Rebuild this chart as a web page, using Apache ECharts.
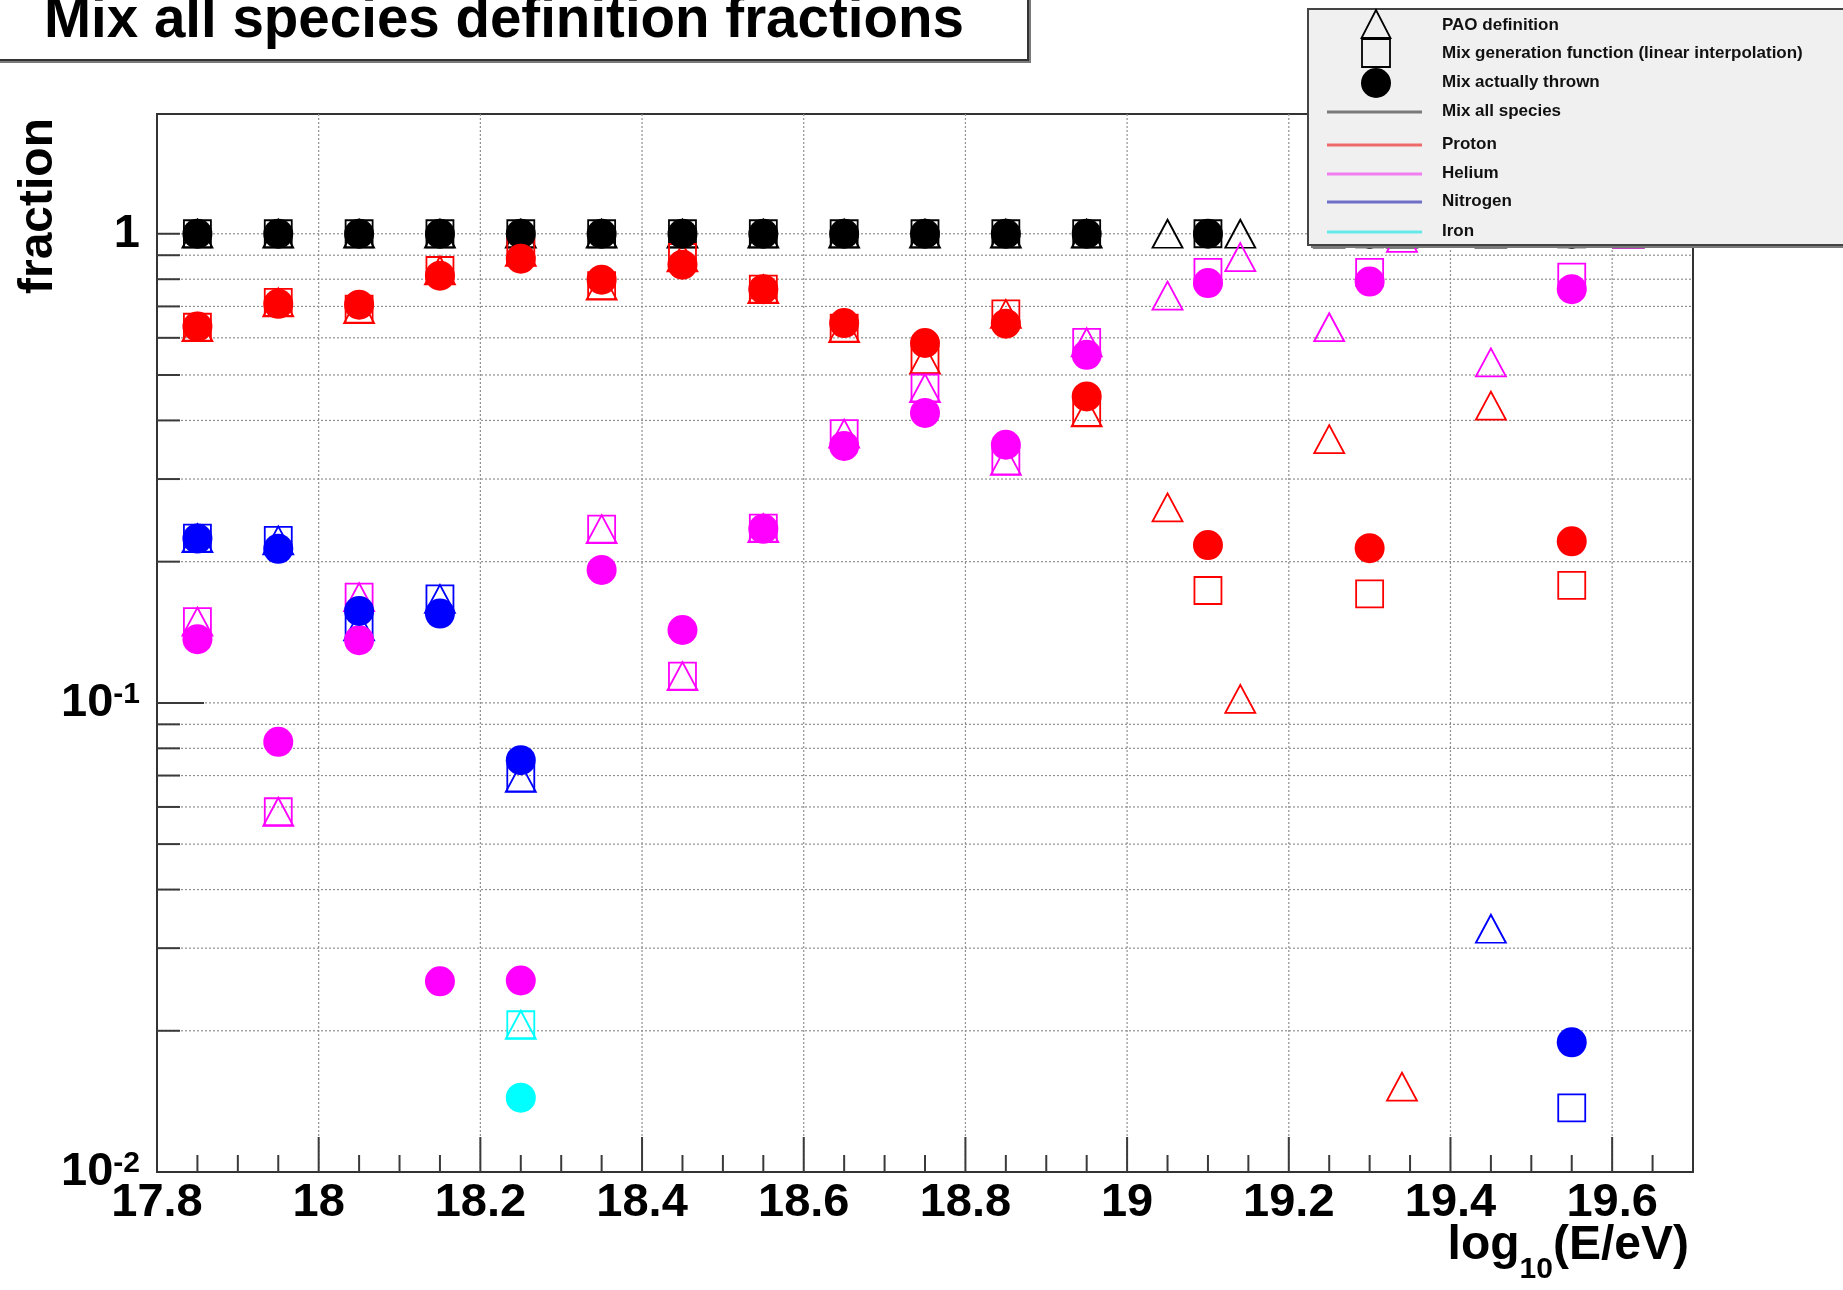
<!DOCTYPE html>
<html>
<head>
<meta charset="utf-8">
<title>Mix all species definition fractions</title>
<script src="https://cdn.jsdelivr.net/npm/echarts@6/dist/echarts.min.js"></script>
<style>
  html, body { margin: 0; padding: 0; background: #ffffff; }
  #chart { width: 1843px; height: 1290px; }
</style>
</head>
<body>
<div id="chart"></div>
<script>
// ---- axis ranges ----
const X_MIN = 17.8, X_MAX = 19.7, X_STEP = 0.2;
const Y_MIN = 0.01, Y_MAX = 1.8;

// ---- energy bins, log10(E/eV) ----
const binsMix = [17.85, 17.95, 18.05, 18.15, 18.25, 18.35, 18.45, 18.55, 18.65, 18.75, 18.85, 18.95, 19.1, 19.3, 19.55];
const binsPao = [17.85, 17.95, 18.05, 18.15, 18.25, 18.35, 18.45, 18.55, 18.65, 18.75, 18.85, 18.95, 19.05, 19.14, 19.25, 19.34, 19.45, 19.62];

// ---- PAO definition (per binsPao) ----
const paoAll      = [1, 1, 1, 1, 1, 1, 1, 1, 1, 1, 1, 1, 1, 1, 1, 1, 1, 1];
const paoProton   = [0.632, 0.714, 0.691, 0.835, 0.915, 0.775, 0.89, 0.762, 0.629, 0.539, 0.675, 0.416, 0.261, 0.102, 0.365, 0.0152, 0.43, null];
const paoHelium   = [0.149, 0.0586, 0.168, null, null, 0.2346, 0.114, 0.2357, 0.375, 0.469, 0.328, 0.587, 0.738, 0.892, 0.632, 0.98, 0.532, 1.0];
const paoNitrogen = [0.2245, 0.222, 0.1455, 0.1666, 0.0692, null, null, null, null, null, null, null, null, null, null, null, 0.033, null];
const paoIron     = [null, null, null, null, 0.0206, null, null, null, null, null, null, null, null, null, null, null, null, null];

// ---- Mix generation function, linear interpolation (per binsMix) ----
const genAll      = [1, 1, 1, 1, 1, 1, 1, 1, 1, 1, 1, 1, 1, 1, 1];
const genProton   = [0.632, 0.714, 0.691, 0.835, 0.915, 0.775, 0.89, 0.762, 0.629, 0.539, 0.675, 0.416, 0.1736, 0.1708, 0.178];
const genHelium   = [0.149, 0.0586, 0.168, null, null, 0.2346, 0.114, 0.2357, 0.375, 0.469, 0.328, 0.587, 0.827, 0.827, 0.808];
const genNitrogen = [0.2245, 0.222, 0.1455, 0.1666, 0.0692, null, null, null, null, null, null, null, null, null, 0.0137];
const genIron     = [null, null, null, null, 0.0206, null, null, null, null, null, null, null, null, null, null];

// ---- Mix actually thrown (per binsMix) ----
const thrownAll      = [1, 1, 1, 1, 1, 1, 1, 1, 1, 1, 1, 1, 1, 1, 1];
const thrownProton   = [0.634, 0.709, 0.706, 0.814, 0.885, 0.798, 0.859, 0.762, 0.645, 0.585, 0.643, 0.45, 0.217, 0.2137, 0.221];
const thrownHelium   = [0.1367, 0.0826, 0.136, 0.0255, 0.0256, 0.192, 0.143, 0.235, 0.353, 0.415, 0.355, 0.552, 0.785, 0.791, 0.762];
const thrownNitrogen = [0.224, 0.213, 0.157, 0.155, 0.0755, null, null, null, null, null, null, null, null, null, 0.0189];
const thrownIron     = [null, null, null, null, 0.0144, null, null, null, null, null, null, null, null, null, null];

// ---- grid lines and ticks ----
const yGridValues = [0.02, 0.03, 0.04, 0.05, 0.06, 0.07, 0.08, 0.09, 0.1, 0.2, 0.3, 0.4, 0.5, 0.6, 0.7, 0.8, 0.9, 1];
const yLongTicks = [0.1];
const xGridValues = [18, 18.2, 18.4, 18.6, 18.8, 19, 19.2, 19.4, 19.6];
const xMinorTicks = [];
for (let k = 1; k < 38; k++) {
  const v = +(X_MIN + 0.05 * k).toFixed(2);
  if (Math.abs(v * 5 - Math.round(v * 5)) > 1e-6) xMinorTicks.push(v);
}

// ---- texts ----
const titleText = 'Mix all species definition fractions';
const yTitle = 'fraction';
const legendLabels = ['PAO definition', 'Mix generation function (linear interpolation)', 'Mix actually thrown',
                      'Mix all species', 'Proton', 'Helium', 'Nitrogen', 'Iron'];

const FONT = '"Liberation Sans", Arial, Helvetica, sans-serif';

const species = [
  { name: 'Mix all species', color: '#000000', legendLine: '#7a7a7a', pao: paoAll,      gen: genAll,      thrown: thrownAll },
  { name: 'Proton',          color: '#ff0000', legendLine: '#ee6a6a', pao: paoProton,   gen: genProton,   thrown: thrownProton },
  { name: 'Helium',          color: '#ff00ff', legendLine: '#f07ef0', pao: paoHelium,   gen: genHelium,   thrown: thrownHelium },
  { name: 'Nitrogen',        color: '#0000ff', legendLine: '#6f6fc8', pao: paoNitrogen, gen: genNitrogen, thrown: thrownNitrogen },
  { name: 'Iron',            color: '#00ffff', legendLine: '#66e8e8', pao: paoIron,     gen: genIron,     thrown: thrownIron }
];

const markerKinds = [
  { key: 'pao',    bins: binsPao, symbol: 'triangle', size: [30, 28], filled: false },
  { key: 'gen',    bins: binsMix, symbol: 'rect',     size: [27, 27], filled: false },
  { key: 'thrown', bins: binsMix, symbol: 'circle',   size: 30,       filled: true }
];

const series = [];

// horizontal dotted grid lines with left-side ticks
series.push({
  type: 'custom',
  silent: true,
  z: 1,
  data: yGridValues.map(v => [X_MIN, v]),
  renderItem: (params, api) => {
    const v = api.value(1);
    const a = api.coord([X_MIN, v]);
    const b = api.coord([X_MAX, v]);
    const len = yLongTicks.indexOf(v) >= 0 ? 47 : 23;
    return {
      type: 'group',
      children: [
        { type: 'line', shape: { x1: a[0], y1: a[1], x2: b[0], y2: b[1] },
          style: { stroke: '#8f8f8f', lineWidth: 1.2, lineDash: [2, 2] } },
        { type: 'line', shape: { x1: a[0], y1: a[1], x2: a[0] + len, y2: a[1] },
          style: { stroke: '#3a3a3a', lineWidth: 2 } }
      ]
    };
  }
});

// vertical dotted grid lines with major ticks
series.push({
  type: 'custom',
  silent: true,
  z: 1,
  data: xGridValues.map(x => [x, Y_MIN]),
  renderItem: (params, api) => {
    const x = api.value(0);
    const a = api.coord([x, Y_MIN]);
    const b = api.coord([x, Y_MAX]);
    return {
      type: 'group',
      children: [
        { type: 'line', shape: { x1: a[0], y1: a[1], x2: b[0], y2: b[1] },
          style: { stroke: '#8f8f8f', lineWidth: 1.2, lineDash: [2, 2] } },
        { type: 'line', shape: { x1: a[0], y1: a[1], x2: a[0], y2: a[1] - 35 },
          style: { stroke: '#3a3a3a', lineWidth: 2 } }
      ]
    };
  }
});

// minor ticks on the energy axis
series.push({
  type: 'custom',
  silent: true,
  z: 1,
  data: xMinorTicks.map(x => [x, Y_MIN]),
  renderItem: (params, api) => {
    const a = api.coord([api.value(0), Y_MIN]);
    return { type: 'line', shape: { x1: a[0], y1: a[1], x2: a[0], y2: a[1] - 17 },
             style: { stroke: '#3a3a3a', lineWidth: 2 } };
  }
});

// markers: triangles, then squares, then circles
markerKinds.forEach((mk, mi) => {
  species.forEach(sp => {
    const vals = sp[mk.key];
    const data = [];
    mk.bins.forEach((x, i) => { if (vals[i] != null) data.push([x, vals[i]]); });
    series.push({
      type: 'scatter',
      name: sp.name + ' / ' + mk.key,
      data: data,
      symbol: mk.symbol,
      symbolSize: mk.size,
      z: 3 + mi,
      silent: true,
      itemStyle: mk.filled
        ? { color: sp.color, borderWidth: 0, opacity: 1 }
        : { color: 'rgba(0,0,0,0)', borderColor: sp.color, borderWidth: 1.8, opacity: 1 },
      emphasis: { disabled: true }
    });
  });
});

// text width helper for the composed axis title
const measureCtx = document.createElement('canvas').getContext('2d');
function textWidth(str, font) { measureCtx.font = font; return measureCtx.measureText(str).width; }

const xtFont = 'bold 48px ' + FONT;
const xtSubFont = 'bold 30px ' + FONT;
const xtRight = 1689;
const wParen = textWidth('(E/eV)', xtFont);
const wSub = textWidth('10', xtSubFont);

// legend layout
const LG = { left: 1308, top: 9, bottom: 245, symX: 1376, lineX1: 1327, lineX2: 1422, textX: 1442 };
const legendRowsY = [25, 53, 82, 111, 144, 173, 201, 231];
const ZL = 200;

const legendElements = [
  { type: 'rect', z: ZL, shape: { x: LG.left + 3, y: LG.top + 3, width: 600, height: LG.bottom - LG.top },
    style: { fill: '#7a7a7a' } },
  { type: 'rect', z: ZL + 1, shape: { x: LG.left, y: LG.top, width: 600, height: LG.bottom - LG.top },
    style: { fill: '#f0f0f0', stroke: '#444444', lineWidth: 2 } },
  // triangle / square / circle marker symbols
  { type: 'polygon', z: ZL + 2, shape: { points: [[LG.symX, 10], [LG.symX + 14.5, 38], [LG.symX - 14.5, 38]] },
    style: { fill: 'none', stroke: '#000', lineWidth: 1.8 } },
  { type: 'rect', z: ZL + 2, shape: { x: LG.symX - 14, y: 39, width: 28, height: 28 },
    style: { fill: 'none', stroke: '#000', lineWidth: 1.8 } },
  { type: 'circle', z: ZL + 2, shape: { cx: LG.symX, cy: 83, r: 15 }, style: { fill: '#000' } }
];
species.forEach((sp, i) => {
  const y = legendRowsY[3 + i];
  legendElements.push({ type: 'line', z: ZL + 2, shape: { x1: LG.lineX1, y1: y + 1, x2: LG.lineX2, y2: y + 1 },
    style: { stroke: sp.legendLine, lineWidth: 3 } });
});
legendLabels.forEach((t, i) => {
  legendElements.push({ type: 'text', z: ZL + 2, x: LG.textX, y: legendRowsY[i],
    style: { text: t, font: 'bold 17px ' + FONT, fill: '#111', align: 'left', verticalAlign: 'middle' } });
});

const chart = echarts.init(document.getElementById('chart'), null, { renderer: 'canvas', width: 1843, height: 1290 });

chart.setOption({
  animation: false,
  backgroundColor: '#ffffff',
  grid: {
    left: 157, right: 150, top: 114, bottom: 118,
    show: true, borderColor: '#333333', borderWidth: 2, backgroundColor: '#ffffff'
  },
  xAxis: {
    type: 'value',
    min: X_MIN, max: X_MAX, interval: X_STEP,
    axisLine: { show: false },
    axisTick: { show: false },
    splitLine: { show: false },
    axisLabel: {
      show: true, margin: 8, color: '#000', fontSize: 47, fontWeight: 'bold', fontFamily: FONT,
      showMinLabel: true, showMaxLabel: false, hideOverlap: false
    }
  },
  yAxis: {
    type: 'log', logBase: 10,
    min: Y_MIN, max: Y_MAX,
    axisLine: { show: false },
    axisTick: { show: false },
    splitLine: { show: false },
    minorTick: { show: false },
    axisLabel: {
      show: true, margin: 17, showMaxLabel: false, hideOverlap: false,
      formatter: v => {
        const e = Math.round(Math.log10(v));
        return e === 0 ? '{b|1}' : '{b|10}{s|' + e + '}';
      },
      rich: {
        b: { fontSize: 47, lineHeight: 47, fontWeight: 'bold', fontFamily: FONT, color: '#000' },
        s: { fontSize: 30, lineHeight: 30, fontWeight: 'bold', fontFamily: FONT, color: '#000', verticalAlign: 'top' }
      }
    }
  },
  graphic: [
    // title pave
    { type: 'rect', z: ZL, shape: { x: -3, y: -3, width: 1034, height: 66 }, style: { fill: '#7a7a7a' } },
    { type: 'rect', z: ZL + 1, shape: { x: -6, y: -6, width: 1034, height: 66 },
      style: { fill: '#ffffff', stroke: '#333333', lineWidth: 2 } },
    { type: 'text', z: ZL + 2, x: 44, y: 21,
      style: { text: titleText, font: 'bold 56.5px ' + FONT, fill: '#000', align: 'left', verticalAlign: 'middle' } },
    // y axis title
    { type: 'text', z: ZL + 2, x: 39, y: 206, rotation: Math.PI / 2,
      style: { text: yTitle, font: 'bold 48px ' + FONT, fill: '#000', align: 'center', verticalAlign: 'middle' } },
    // x axis title: log_10(E/eV)
    { type: 'text', z: ZL + 2, x: xtRight, y: 1246,
      style: { text: '(E/eV)', font: xtFont, fill: '#000', align: 'right', verticalAlign: 'middle' } },
    { type: 'text', z: ZL + 2, x: xtRight - wParen, y: 1270,
      style: { text: '10', font: xtSubFont, fill: '#000', align: 'right', verticalAlign: 'middle' } },
    { type: 'text', z: ZL + 2, x: xtRight - wParen - wSub, y: 1246,
      style: { text: 'log', font: xtFont, fill: '#000', align: 'right', verticalAlign: 'middle' } }
  ].concat(legendElements),
  series: series
});
</script>
</body>
</html>
